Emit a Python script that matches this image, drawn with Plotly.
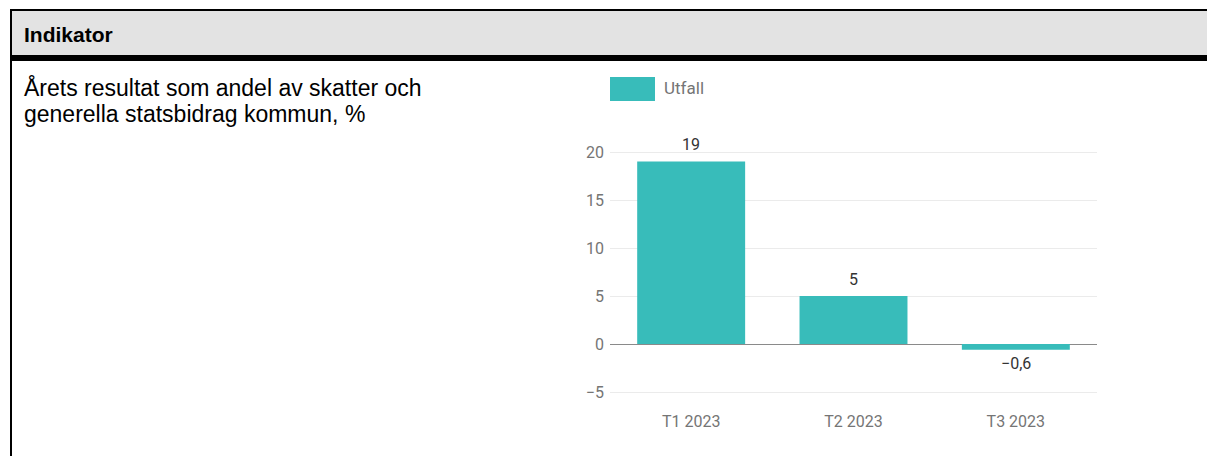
import plotly.graph_objects as go

# Indicator data
categories = ["T1 2023", "T2 2023", "T3 2023"]
utfall = [19, 5, -0.6]
series_name = "Utfall"
header_text = "Indikator"
indicator_lines = ["Årets resultat som andel av skatter och",
                   "generella statsbidrag kommun, %"]
y_ticks = [-5, 0, 5, 10, 15, 20]

W, H = 1208, 456
TEAL = "#38bcba"
NO_LINE = dict(width=0, color="rgba(0,0,0,0)")
RIGHT = 1207


def px(x):
    return x / W


def py(y):
    return 1 - y / H


def fmt(v):
    return f"{v:g}".replace(".", ",").replace("-", "\u2212")


fig = go.Figure()
fig.add_trace(go.Bar(
    x=categories, y=utfall, name=series_name,
    marker=dict(color=TEAL, line=dict(width=0)),
    showlegend=False, hoverinfo="skip",
))

# value labels above / below each bar
annotations = []
for c, v in zip(categories, utfall):
    annotations.append(dict(
        x=c, y=v, xref="x", yref="y", text=fmt(v), showarrow=False,
        yanchor="middle", yshift=17 if v >= 0 else -14,
        font=dict(family="Roboto", size=16, color="#333333"),
    ))

# table header and indicator text
annotations.append(dict(
    x=px(22), y=py(34), xref="paper", yref="paper", text=f"<b>{header_text}</b>",
    showarrow=False, xanchor="left", yanchor="middle",
    font=dict(family="Liberation Sans, Arial", size=21, color="#000000"),
))
for i, line in enumerate(indicator_lines):
    annotations.append(dict(
        x=px(22), y=py(88 + 26 * i), xref="paper", yref="paper", text=line,
        showarrow=False, xanchor="left", yanchor="middle",
        font=dict(family="Liberation Sans, Arial", size=23, color="#000000"),
    ))

# legend entry
annotations.append(dict(
    x=px(662), y=py(88), xref="paper", yref="paper", text=series_name,
    showarrow=False, xanchor="left", yanchor="middle",
    font=dict(family="Roboto", size=17, color="#757575"),
))

shapes = [
    # header background
    dict(type="rect", xref="paper", yref="paper", x0=px(11), x1=px(RIGHT),
         y0=py(58), y1=py(10), fillcolor="#e3e3e3", line=NO_LINE, layer="below"),
    # top border
    dict(type="rect", xref="paper", yref="paper", x0=px(10), x1=px(RIGHT),
         y0=py(11), y1=py(9), fillcolor="#000000", line=NO_LINE),
    # thick rule under header
    dict(type="rect", xref="paper", yref="paper", x0=px(10), x1=px(RIGHT),
         y0=py(61), y1=py(55), fillcolor="#000000", line=NO_LINE),
    # left border
    dict(type="rect", xref="paper", yref="paper", x0=px(10), x1=px(12),
         y0=0, y1=py(9), fillcolor="#000000", line=NO_LINE),
    # legend swatch
    dict(type="rect", xref="paper", yref="paper", x0=px(610), x1=px(655),
         y0=py(101), y1=py(77), fillcolor=TEAL, line=NO_LINE),
]

fig.update_layout(
    width=W, height=H,
    margin=dict(l=0, r=0, t=0, b=0),
    paper_bgcolor="#ffffff", plot_bgcolor="#ffffff",
    bargap=0.335,
    separators=", ",
    annotations=annotations,
    shapes=shapes,
    xaxis=dict(
        domain=[px(610), px(1097)],
        showgrid=False, showline=False, ticks="",
        ticklabelstandoff=8,
        tickfont=dict(family="Roboto", size=16, color="#757575"),
        fixedrange=True,
    ),
    yaxis=dict(
        domain=[py(401.6), py(142.4)],
        range=[-6, 21],
        tickvals=y_ticks,
        showgrid=True, gridcolor="#ebebeb", gridwidth=1,
        zeroline=True, zerolinecolor="#8a8a8a", zerolinewidth=1,
        showline=False, ticks="", ticklabelstandoff=5,
        tickfont=dict(family="Roboto", size=16, color="#757575"),
        fixedrange=True,
    ),
)

fig.write_html("out.html", config={"displayModeBar": False})
